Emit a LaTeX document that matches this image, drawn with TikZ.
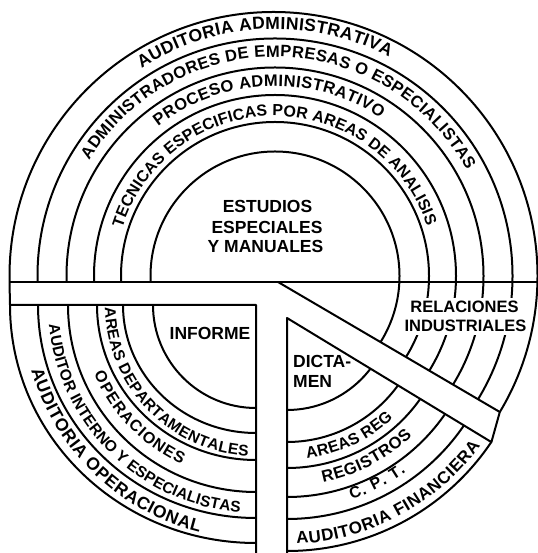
\documentclass[tikz,border=0pt]{standalone}
\usepackage{fontspec}
\setmainfont{Liberation Sans}
\usetikzlibrary{decorations.text,calc}
\newcommand\fsXL{\fontsize{17.5}{20}\selectfont\bfseries}
\newcommand\fsL{\fontsize{17}{20}\selectfont\bfseries}
\newcommand\fsM{\fontsize{16.5}{20}\selectfont\bfseries}
\newcommand\fsN{\fontsize{16}{20}\selectfont\bfseries}
\newcommand\fsS{\fontsize{15.5}{20}\selectfont\bfseries}
\begin{document}
\begin{tikzpicture}[x=1pt,y=1pt,
  ring/.style={line width=2pt},
  edge/.style={line width=2pt, line join=round},
  lbl/.style={font=\fsXL, inner sep=0pt},
  curv/.style={decorate, decoration={text along path, text align={fit to path}, text={#1}}}]
\useasboundingbox (0,0) rectangle (537,553);
% centres
\coordinate (A) at (275,277);
\coordinate (A0) at (273.5,277);
\coordinate (B) at (287,248);
\coordinate (C) at (256,248);
% corners
\coordinate (TL) at (9.5,271);
\coordinate (TR) at (537,271);
\coordinate (BL) at (10,248);
\coordinate (BV) at (256,248);
\coordinate (BV0) at (256,0);
\coordinate (D1) at (278,271);
\coordinate (U2) at (499.8,141);
\coordinate (L2) at (491.4,110.9);
\coordinate (D2) at (287,235);
\coordinate (D20) at (287,0);
% upper rings
\begin{scope}
\clip (-20,271) -- (278,271) -- (620,70.6) -- (620,620) -- (-20,620) -- cycle;
\foreach \r in {124.5,154,181,208.5,237.5} \draw[ring] (A) circle[radius=\r];
\draw[ring] (A0) circle[radius=264];
\end{scope}
% lower left rings
\begin{scope}
\clip (-20,-20) rectangle (256,248);
\foreach \rx/\ry in {103/103,133/128,159/155,188/187,218/213,246/238}
  \draw[ring] (C) ellipse[x radius=\rx, y radius=\ry];
\end{scope}
% lower right rings
\begin{scope}
\clip (287,-20) -- (287,235) -- (620,32.9) -- (620,-20) -- cycle;
\foreach \r in {105,137,163,192,214,246} \draw[ring] (B) circle[radius=\r];
\end{scope}
% bands
\draw[edge] (TL) -- (TR);
\draw[edge] (TL) -- (BL) -- (BV) -- (BV0);
\draw[edge] (D1) -- (U2) -- (L2) -- (D2) -- (D20);
% straight labels
\node[lbl, anchor=base] (est1) at (267.5,340) {ESTUDIOS};
\node[lbl, anchor=base] (est2) at (267,319) {ESPECIALES};
\node[lbl, anchor=base] (est3) at (265.5,300) {Y MANUALES};
\node[lbl, anchor=base] (inf) at (210,213) {INFORME};
\node[lbl, anchor=base west] (dic1) at (293,185) {DICTA-};
\node[lbl, anchor=base west] (dic2) at (293,165) {MEN};
\node[lbl, font=\fsM, anchor=base, fill=white, inner sep=3pt, text depth=2pt] (rel1) at (464.5,240) {RELACIONES};
\node[lbl, font=\fsM, anchor=base, fill=white, inner sep=3pt] (rel2) at (465.5,221) {INDUSTRIALES};
% curved labels, upper
\path[curv={|\fsXL|AUDITORIA ADMINISTRATIVA}] ($(A)+(122.7:247)$) arc[start angle=122.7, end angle=62.5, radius=247];
\path[curv={|\fsM|ADMINISTRADORES DE EMPRESAS O ESPECIALISTAS}] ($(A)+(148.1:219)$) arc[start angle=148.1, end angle=28.8, radius=219];
\path[curv={|\fsM|PROCESO ADMINISTRATIVO}] ($(A)+(127.9:190)$) arc[start angle=127.9, end angle=56.3, radius=190];
\path[curv={|\fsN|TECNICAS ESPECIFICAS POR AREAS DE ANALISIS}] ($(A)+(162.6:160)$) arc[start angle=162.6, end angle=18.2, radius=160];
% curved labels, lower left
\path[curv={|\fsS|AREAS DEPARTAMENTALES}] ($(C)+(181:151)$) arc[start angle=181, end angle=267, radius=151];
\path[curv={|\fsN|OPERACIONES}] ($(C)+(203:176)$) arc[start angle=203, end angle=245, radius=176];
\path[curv={|\fsS|AUDITOR INTERNO Y ESPECIALISTAS}] ($(C)+(185.5:208)$) arc[start angle=185.5, end angle=265.6, radius=208];
\path[curv={|\fsXL|AUDITORIA OPERACIONAL}] ($(C)+(196.2:234)$) arc[start angle=196.2, end angle=256, radius=234];
% curved labels, lower right
\path[curv={|\fsN|AREAS REG}] ($(B)+(-82.6:155)$) arc[start angle=-82.6, end angle=-46.8, radius=155];
\path[curv={|\fsM|REGISTROS}] ($(B)+(-78.5:181)$) arc[start angle=-78.5, end angle=-46.2, radius=181];
\path[curv={|\fsN|C. P. T.}] ($(B)+(-71.6:205)$) arc[start angle=-71.6, end angle=-54.5, radius=205];
\path[curv={|\fsL|AUDITORIA FINANCIERA}] ($(B)+(-87.7:239)$) arc[start angle=-87.7, end angle=-36, radius=239];
\end{tikzpicture}
\end{document}
